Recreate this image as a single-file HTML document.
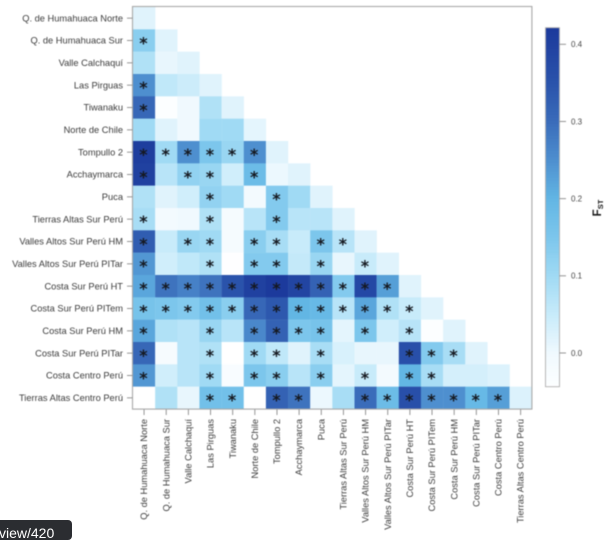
<!DOCTYPE html>
<html lang="es">
<head>
<meta charset="utf-8">
<title>FST heatmap</title>
<style>
html,body{margin:0;padding:0;background:#fff;width:612px;height:532px;overflow:hidden}
#chart{position:absolute;left:0;top:0;filter:blur(0.6px)}
#url-tip{position:absolute;left:-4px;top:520px;width:76px;height:20px;background:#2b2d31;border-radius:4px;overflow:hidden;color:#fff;font:14px "Liberation Sans",sans-serif;line-height:27px;padding-left:3px;box-sizing:border-box;filter:blur(0.3px)}
text{font-family:"Liberation Sans",sans-serif}
</style>
</head>
<body>
<svg id="chart" width="612" height="532" viewBox="0 0 612 532" xmlns="http://www.w3.org/2000/svg"></svg>
<div id="url-tip">view/420</div>
<script>
const populations = ["Q. de Humahuaca Norte","Q. de Humahuaca Sur","Valle Calchaquí","Las Pirguas","Tiwanaku","Norte de Chile","Tompullo 2","Acchaymarca","Puca","Tierras Altas Sur Perú","Valles Altos Sur Perú HM","Valles Altos Sur Perú PITar","Costa Sur Perú HT","Costa Sur Perú PITem","Costa Sur Perú HM","Costa Sur Perú PITar","Costa Centro Perú","Tierras Altas Centro Perú"];
const fstValues = [
[.02],
[.13,.02],
[.08,.01,.02],
[.25,.06,.045,.02],
[.31,-.04,0,.08,.02],
[.1,.02,0,.1,.1,.015],
[.41,.1,.25,.15,.11,.25,.02],
[.4,.07,.12,.11,.04,.18,.005,.02],
[.08,.02,.04,.12,.1,-.01,.14,.1,.02],
[.09,-.01,0,.08,-.015,.07,.14,.07,.07,.02],
[.33,.05,.11,.1,-.015,.13,.09,.05,.15,.07,.02],
[.24,.04,.06,.08,-.045,.14,.14,.055,.11,.01,.05,.02],
[.22,.29,.27,.29,.35,.4,.42,.39,.32,.14,.38,.23,.02],
[.16,.15,.14,.17,.13,.31,.34,.2,.19,.07,.22,.08,.05,.02],
[.22,.08,.07,.11,.07,.26,.32,.15,.16,.015,.15,.04,.07,-.04,.02],
[.31,-.02,.07,.08,-.05,.1,.06,.02,.09,.03,.01,.01,.36,.14,.09,.02],
[.24,.04,.07,.1,-.025,.15,.13,.07,.13,.015,.05,-.01,.2,.09,.035,.035,.025],
[-.05,.08,.01,.17,.17,-.05,.32,.29,.005,.09,.3,.18,.36,.25,.25,.19,.23,.025]
];
const significant = [
[0],
[1,0],
[0,0,0],
[1,0,0,0],
[1,0,0,0,0],
[0,0,0,0,0,0],
[1,1,1,1,1,1,0],
[1,0,1,1,0,1,0,0],
[0,0,0,1,0,0,1,0,0],
[1,0,0,1,0,0,1,0,0,0],
[1,0,1,1,0,1,1,0,1,1,0],
[1,0,0,1,0,1,1,0,1,0,1,0],
[1,1,1,1,1,1,1,1,1,1,1,1,0],
[1,1,1,1,1,1,1,1,1,1,1,1,1,0],
[1,0,0,1,0,1,1,1,1,0,1,0,1,0,0],
[1,0,0,1,0,1,1,0,1,0,0,0,1,1,1,0],
[1,0,0,1,0,1,1,0,1,0,1,0,1,1,0,0,0],
[0,0,0,1,1,0,1,1,0,0,1,1,1,1,1,1,1,0]
];
const colorbarTicks = [0, 0.1, 0.2, 0.3, 0.4];
const colorbarDomain = [-0.0437, 0.4215];

const NS = "http://www.w3.org/2000/svg";
const svg = document.getElementById("chart");
const plot = {left:133, top:7, width:398.7, height:402};
const bar = {left:545.5, right:559.5, top:27.7, bottom:386.7};
const stops = [[-0.05,[255,255,255]],[0,[240,249,254]],[0.05,[200,235,250]],[0.1,[160,218,244]],[0.15,[124,198,236]],[0.2,[98,182,228]],[0.25,[78,143,207]],[0.3,[58,108,186]],[0.35,[42,83,171]],[0.42,[28,58,156]]];

function xPos(i){ return plot.left + i * plot.width / populations.length; }
function yPos(i){ return plot.top + i * plot.height / populations.length; }
function barY(v){
  const t = (v - colorbarDomain[0]) / (colorbarDomain[1] - colorbarDomain[0]);
  return bar.bottom - t * (bar.bottom - bar.top);
}
function fillFor(v){
  if (v <= stops[0][0]) return "rgb(255,255,255)";
  for (let i = 1; i < stops.length; i++) {
    if (v <= stops[i][0]) {
      const a = stops[i-1], b = stops[i];
      const t = (v - a[0]) / (b[0] - a[0]);
      const c = a[1].map((x, k) => Math.round(x + (b[1][k] - x) * t));
      return "rgb(" + c.join(",") + ")";
    }
  }
  return "rgb(28,58,156)";
}
function make(tag, attrs, text){
  const el = document.createElementNS(NS, tag);
  for (const k in attrs) el.setAttribute(k, attrs[k]);
  if (text !== undefined) el.textContent = text;
  svg.appendChild(el);
  return el;
}

const cw = plot.width / populations.length;
const ch = plot.height / populations.length;

fstValues.forEach((row, r) => {
  row.forEach((v, c) => {
    const cell = make("rect", {x:xPos(c), y:yPos(r), width:cw+0.2, height:ch+0.2, fill:fillFor(v)});
    
    
  });
});

significant.forEach((row, r) => {
  row.forEach((s, c) => {
    if (!s) return;
    const star = make("text", {x:xPos(c)+cw/2-0.6, y:yPos(r)+ch/2+7.8, "text-anchor":"middle", fill:"#15181f", "font-size":"16", style:'font-family:"DejaVu Sans",sans-serif;font-weight:bold'}, "*");
    
    
  });
});

const frame = make("rect", {x:plot.left-0.5, y:plot.top-0.5, width:plot.width+0.7, height:plot.height+0.6, fill:"none", stroke:"#a8a8a8", "stroke-width":"1.1"});



populations.forEach((name, i) => {
  const yc = yPos(i) + ch/2;
  const xc = xPos(i) + cw/2;
  const yt = make("line", {x1:127, x2:132.5, y1:yc, y2:yc, stroke:"#8a8a8a", "stroke-width":"0.9"});
  
  
  const yl = make("text", {x:123, y:yc+3.1, "text-anchor":"end", "font-size":"9.3", fill:"#3c3c3c"}, name);
  
  
  const xt = make("line", {x1:xc, x2:xc, y1:409.5, y2:415, stroke:"#8a8a8a", "stroke-width":"0.9"});
  
  
  const xl = make("text", {x:0, y:0, "text-anchor":"end", "font-size":"9.3", fill:"#3c3c3c", transform:"translate(" + (xc+3.1) + ",419) rotate(-90)"}, name);
  
  
});

const barSteps = 120;
for (let i = 0; i < barSteps; i++) {
  const v0 = colorbarDomain[0] + (colorbarDomain[1] - colorbarDomain[0]) * i / barSteps;
  const v1 = colorbarDomain[0] + (colorbarDomain[1] - colorbarDomain[0]) * (i + 1) / barSteps;
  const seg = make("rect", {x:bar.left, y:barY(v1), width:bar.right-bar.left, height:barY(v0)-barY(v1)+0.4, fill:fillFor((v0+v1)/2)});
  
  
}
const barFrame = make("rect", {x:bar.left, y:bar.top, width:bar.right-bar.left, height:bar.bottom-bar.top, fill:"none", stroke:"#b0b0b0", "stroke-width":"0.9"});



colorbarTicks.forEach(v => {
  const y = barY(v);
  const t = make("line", {x1:bar.right, x2:566, y1:y, y2:y, stroke:"#8a8a8a", "stroke-width":"0.9"});
  
  
  const l = make("text", {x:571, y:y+2.9, "font-size":"8", fill:"#444"}, v.toFixed(1));
  
  
});

const title = make("text", {x:0, y:0, "text-anchor":"middle", "font-size":"11.5", "font-weight":"bold", fill:"#1a1a1a", transform:"translate(601,208) rotate(-90)"});


const f = document.createElementNS(NS, "tspan");
f.textContent = "F";
title.appendChild(f);
const st = document.createElementNS(NS, "tspan");
st.setAttribute("font-size", "7.5");
st.setAttribute("dy", "2");
st.textContent = "ST";
title.appendChild(st);
</script>
</body>
</html>
